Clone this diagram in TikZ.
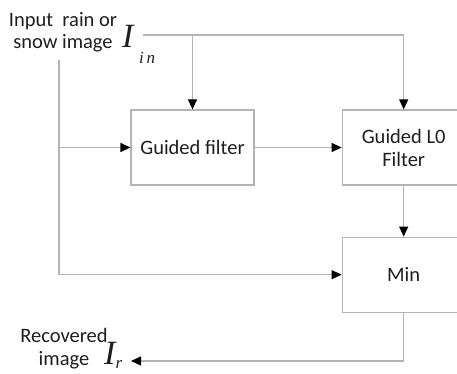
\documentclass[tikz,border=0pt]{standalone}
\usepackage{fontspec}
\setmainfont{Carlito}
\newfontfamily\symserif{Liberation Serif}
\usetikzlibrary{positioning,arrows.meta}
\definecolor{LineGray}{HTML}{B4B4B4}
\definecolor{TextGray}{HTML}{1E1E1E}
\newcommand{\subtxt}[2]{\raisebox{#1}{\symserif\itshape\fontsize{17}{17}\selectfont #2}}

\begin{document}
\begin{tikzpicture}[
  x=1pt, y=1pt,
  node distance=51pt and 87pt,
  block/.style={draw=LineGray, line width=1.2pt, minimum width=123pt, minimum height=75pt, align=center, text=TextGray, font=\fontsize{20.5}{23}\selectfont},
  txt/.style={align=center, text=TextGray, font=\fontsize{20.5}{22.5}\selectfont, inner sep=0pt},
  sym/.style={inner sep=0pt, text=TextGray, font=\symserif\itshape\fontsize{34}{34}\selectfont},
  line/.style={draw=LineGray, line width=1.2pt},
  arrow/.style={line, -{Triangle[length=10pt,width=9pt,color=black]}}
]
\clip (0,0) rectangle (457,374);
\node[block] (gf) at (192.5,226.5) {Guided filter};
\node[block, right=of gf] (l0) {Guided L0\\Filter};
\node[block, below=of l0] (min) {Min};
\node[txt] (input) at (63,342) {Input\ \ rain or\\snow image};
\node[sym, anchor=base west] (iin) at (122,326) {I\,\subtxt{-16pt}{i\,n}};
\node[txt] (rec) at (64,25.5) {Recovered\\image};
\node[sym, anchor=base west] (ir) at (104,9) {I\subtxt{-4pt}{r}};
\coordinate (tin) at (143,339);
\coordinate (lin) at (59,314);
\coordinate (out) at (131,13);
% input branches
\draw[line] (tin) -- (tin -| gf.north);
\draw[arrow] (tin -| gf.north) -| (l0.north);
\draw[arrow] (tin -| gf.north) -- (gf.north);
\draw[arrow] (lin) |- (min.west);
\draw[arrow] (lin |- gf.west) -- (gf.west);
% filters
\draw[arrow] (gf) -- (l0);
\draw[arrow] (l0) -- (min);
\draw[arrow] (min.south) |- (out);
\end{tikzpicture}
\end{document}
